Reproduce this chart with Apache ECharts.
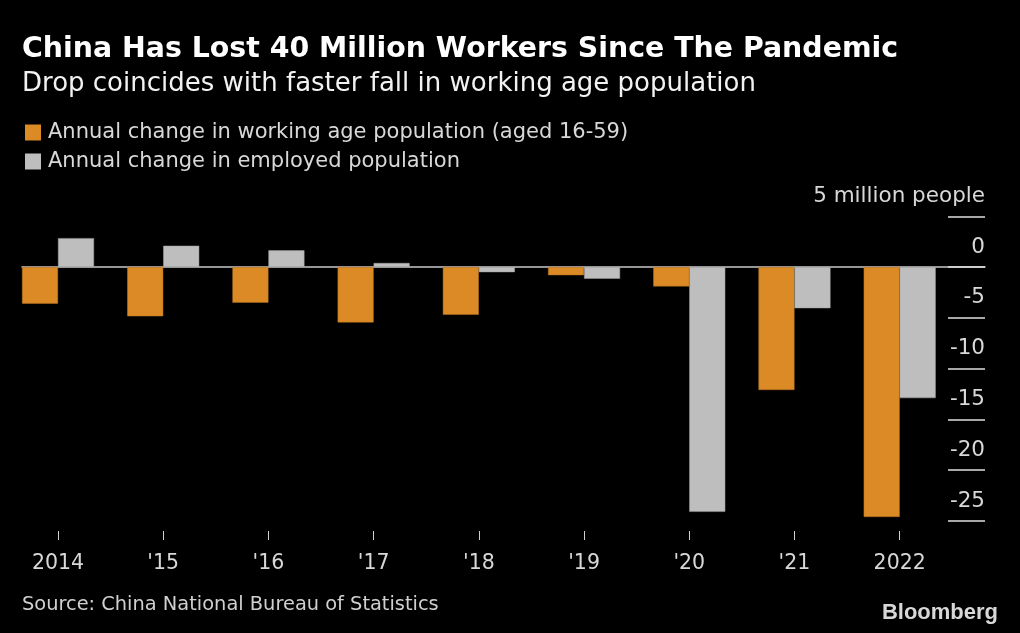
<!DOCTYPE html>
<html>
<head>
<meta charset="utf-8">
<title>China workers</title>
<script src="https://cdn.jsdelivr.net/npm/echarts@6/dist/echarts.min.js"></script>
<style>
html,body{margin:0;padding:0;background:#000;}
#main{width:1020px;height:633px;}
</style>
</head>
<body>
<div id="main"></div>
<script>
var categories = ["2014","'15","'16","'17","'18","'19","'20","'21","2022"];
var workingAge = [-3.6,-4.85,-3.5,-5.45,-4.7,-0.8,-1.9,-12.1,-24.6];
var employed = [2.85,2.1,1.65,0.4,-0.5,-1.15,-24.1,-4.05,-12.9];
var workingAgeName = "Annual change in working age population (aged 16-59)";
var employedName = "Annual change in employed population";

var font = "DejaVu Sans";
var myChart = echarts.init(document.getElementById('main'));

var option = {
	backgroundColor: "#000",
	animation: false,
	textStyle: { fontFamily: font },
	title: [
		{ text: "China Has Lost 40 Million Workers Since The Pandemic", left: 22, top: 36, padding: 0,
			textStyle: { color: "#fff", fontSize: 28.4, fontWeight: "bold", fontFamily: font } },
		{ text: "Drop coincides with faster fall in working age population", left: 22, top: 71, padding: 0,
			textStyle: { color: "#f2f2f2", fontSize: 26, fontWeight: "normal", fontFamily: font } },
		{ text: "Source: China National Bureau of Statistics", left: 22, top: 595, padding: 0,
			textStyle: { color: "#d0d0d0", fontSize: 19.4, fontWeight: "normal", fontFamily: font } },
		{ text: "Bloomberg", right: 22, top: 602, padding: 0,
			textStyle: { color: "#d8d8d8", fontSize: 22, fontWeight: "bold", fontFamily: "Liberation Sans" } }
	],
	legend: {
		orient: "vertical",
		left: 25,
		top: 122,
		padding: 0,
		itemWidth: 16,
		itemHeight: 16,
		itemGap: 8,
		icon: "rect",
		itemStyle: { borderWidth: 0 },
		data: [workingAgeName, employedName],
		textStyle: { color: "#d8d8d8", fontSize: 21, fontFamily: font, padding: [0,0,0,2] }
	},
	grid: [
		{ left: 5.4, right: 67.7, top: 216.3, bottom: 112 },
		{ left: 22, right: 35, top: 216.3, bottom: 112 }
	],
	xAxis: [
		{
			type: "category",
			gridIndex: 0,
			data: categories,
			position: "bottom",
			offset: 10,
			axisLine: { show: false, onZero: false },
			axisTick: { show: true, alignWithLabel: true, length: 9, lineStyle: { color: "#d0d0d0", width: 1 } },
			axisLabel: { color: "#d8d8d8", fontSize: 20.5, margin: 22 }
		},
		{
			// zero line only
			type: "value",
			gridIndex: 1,
			min: 0,
			max: 1,
			z: 0,
			splitLine: { show: false },
			axisTick: { show: false },
			axisLabel: { show: false },
			axisLine: { show: true, onZero: true, lineStyle: { color: "#c8c8c8", width: 1.5 } }
		}
	],
	yAxis: [
		{
			type: "value",
			gridIndex: 0,
			min: -25,
			max: 5,
			interval: 5,
			show: false
		},
		{
			type: "value",
			gridIndex: 1,
			position: "right",
			min: -25,
			max: 5,
			interval: 5,
			splitLine: { show: false },
			axisLine: { show: false, onZero: false },
			axisTick: { show: true, inside: true, length: 37, lineStyle: { color: "#e0e0e0", width: 1.5 } },
			axisLabel: {
				inside: true,
				margin: 0,
				align: "right",
				verticalAlign: "bottom",
				padding: [0,0,9,0],
				color: "#d8d8d8",
				fontSize: 21.5,
				formatter: function(v){
					if(v == 5){
						return "5 million people";
					}
					return v;
				}
			}
		}
	],
	series: [
		{
			name: workingAgeName,
			type: "bar",
			xAxisIndex: 0,
			yAxisIndex: 0,
			data: workingAge,
			barWidth: 36,
			barGap: "0%",
			itemStyle: { color: "#dc8a25", borderColor: "#b8741f", borderWidth: 0.5 }
		},
		{
			name: employedName,
			type: "bar",
			xAxisIndex: 0,
			yAxisIndex: 0,
			data: employed,
			barWidth: 36,
			barGap: "0%",
			itemStyle: { color: "#bebebe", borderColor: "#a0a0a0", borderWidth: 0.5 }
		}
	]
};
myChart.setOption(option);
</script>
</body>
</html>
